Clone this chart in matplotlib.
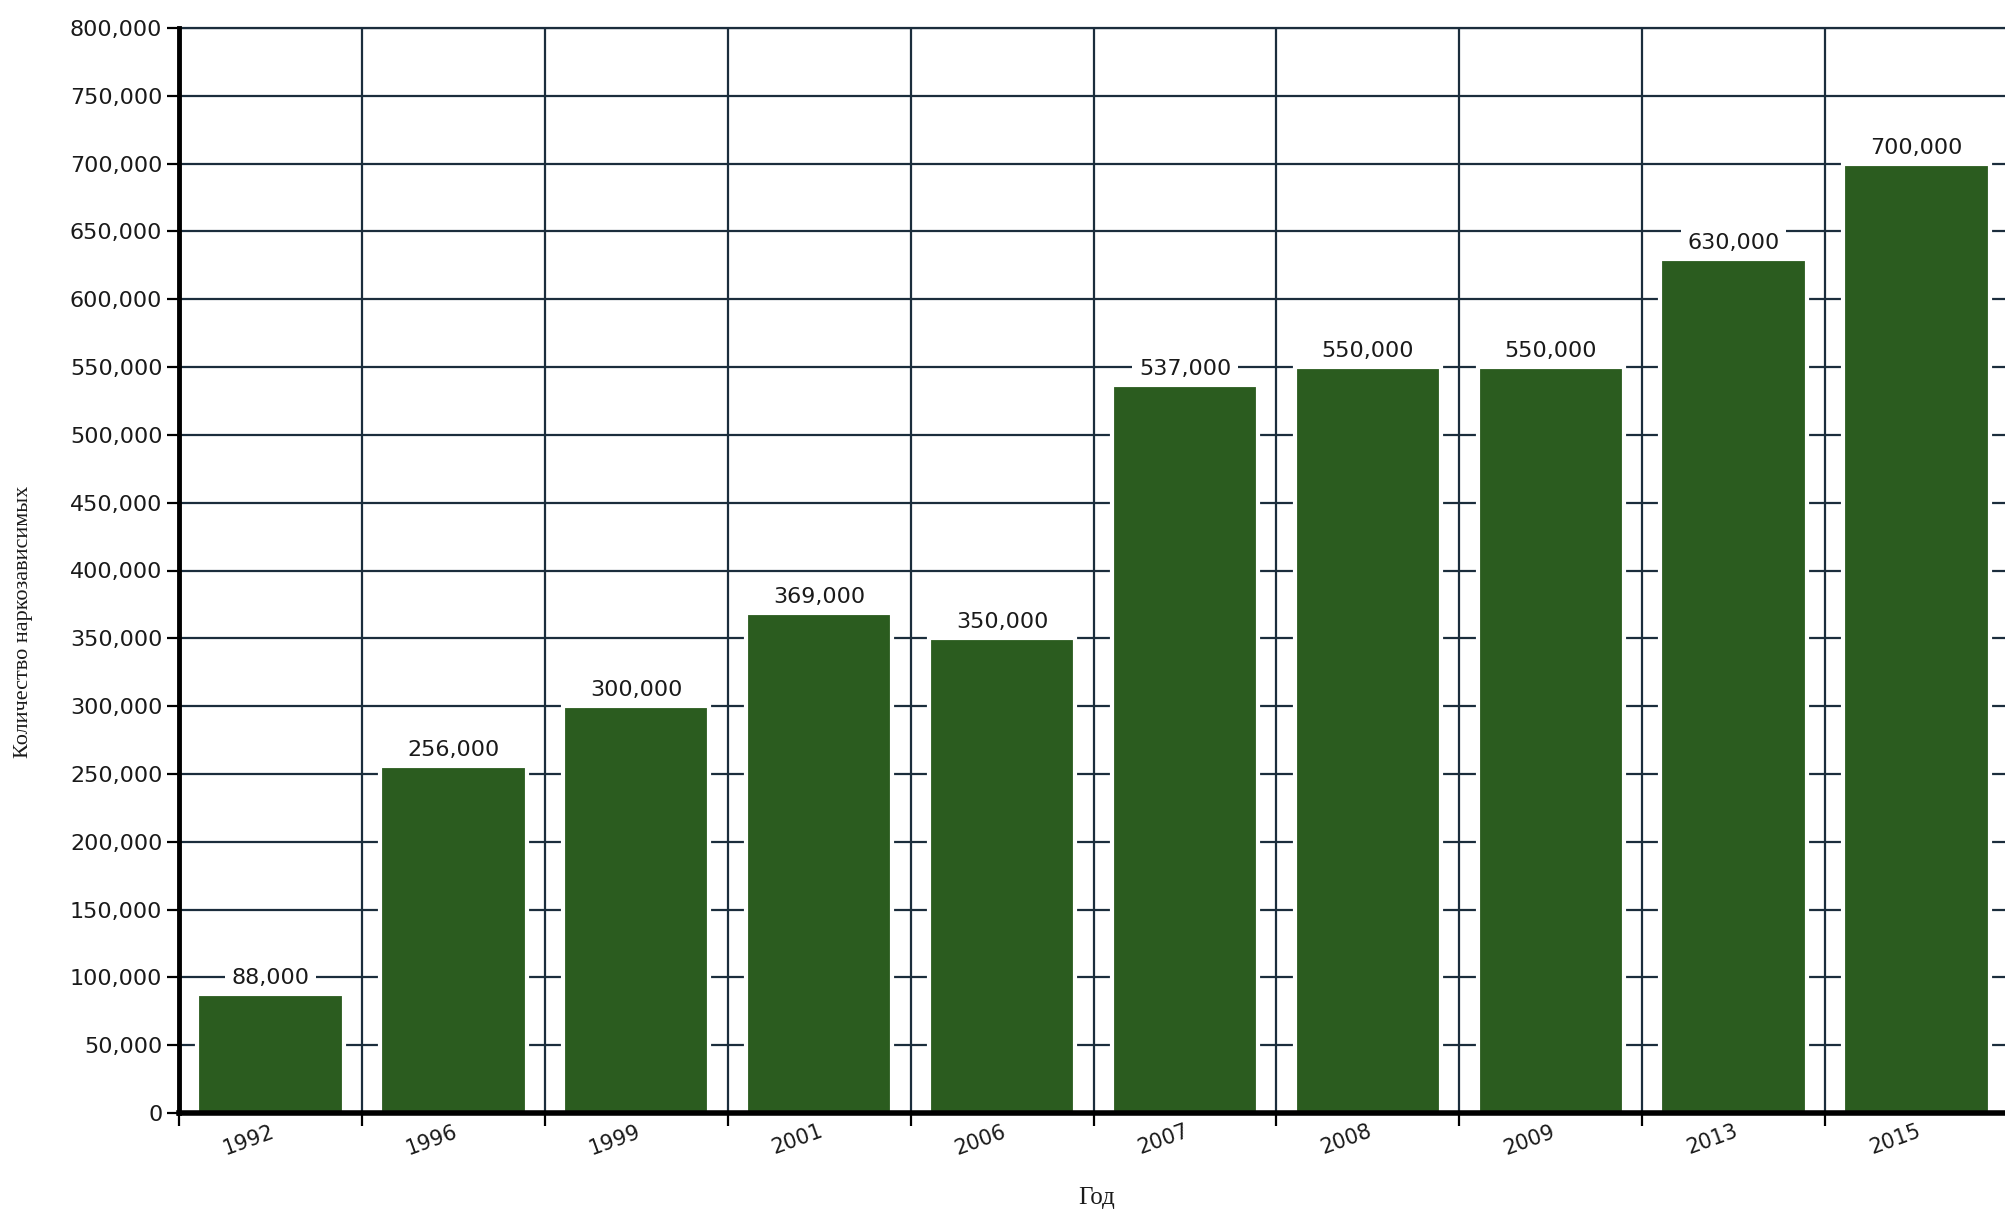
import matplotlib
matplotlib.use("Agg")
import matplotlib.pyplot as plt
import matplotlib.transforms as mtransforms
import numpy as np

years = ["1992", "1996", "1999", "2001", "2006", "2007", "2008", "2009", "2013", "2015"]
values = [88000, 256000, 300000, 369000, 350000, 537000, 550000, 550000, 630000, 700000]
value_labels = ["88,000", "256,000", "300,000", "369,000", "350,000", "537,000",
                "550,000", "550,000", "630,000", "700,000"]
yticks = list(range(0, 800001, 50000))
ytick_labels = [f"{v:,}" for v in yticks]
xlabel = "Год"
ylabel = "Количество наркозависимых"

W, H = 2006, 1215
fig = plt.figure(figsize=(W / 100, H / 100), dpi=100)
left, right, top, bottom = 179, 2008, 28, 1113
ax = fig.add_axes([left / W, (H - bottom) / H, (right - left) / W, (bottom - top) / H])

bar_color = "#2b5c1f"
grid_color = "#1b2d3c"
text_color = "#1a1a1a"

x = np.arange(len(years))
ax.bar(x, values, width=0.8, color=bar_color, edgecolor="white", linewidth=3, zorder=3)

ax.set_xlim(-0.5, len(years) - 0.5)
ax.set_ylim(0, 800000)

ax.set_yticks(yticks)
ax.set_yticklabels(ytick_labels, fontsize=16, family="DejaVu Sans", color=text_color)
ax.set_xticks(np.arange(-0.5, len(years), 1.0))
ax.set_xticklabels([])
ax.set_xticks(x, minor=True)
ax.set_xticklabels(years, minor=True, fontsize=15, family="DejaVu Sans", color=text_color,
                   rotation=20, ha="right", va="top", rotation_mode="anchor")
offset = mtransforms.ScaledTranslation(0.12, -0.04, fig.dpi_scale_trans)
for lab in ax.get_xticklabels(minor=True):
    lab.set_transform(lab.get_transform() + offset)

ax.grid(True, which="major", color=grid_color, linewidth=1.6, zorder=1)
ax.set_axisbelow(True)
ax.tick_params(axis="x", which="major", length=9, width=1.6, color="black", direction="out")
ax.tick_params(axis="x", which="minor", length=0, pad=6)
ax.tick_params(axis="y", which="major", length=9, width=1.6, color="black", pad=3)

ax.spines["right"].set_visible(False)
ax.spines["top"].set_color(grid_color)
ax.spines["top"].set_linewidth(1.6)
ax.spines["left"].set_linewidth(3.5)
ax.spines["left"].set_color("black")
ax.spines["bottom"].set_linewidth(4)
ax.spines["bottom"].set_color("black")
ax.spines["bottom"].set_zorder(4)
ax.spines["left"].set_zorder(4)

for xi, v, lab in zip(x, values, value_labels):
    ax.annotate(lab, (xi, v), xytext=(0, 16), textcoords="offset pixels",
                ha="center", va="center", fontsize=16, family="DejaVu Sans", color=text_color,
                bbox=dict(boxstyle="square,pad=0.3", fc="white", ec="none"), zorder=5)

fig.text(24 / W, 1 - 622 / H, ylabel, rotation=90, ha="center", va="center",
         fontsize=16, family="Liberation Serif", color=text_color)
fig.text(1097 / W, 1 - 1198 / H, xlabel, ha="center", va="center",
         fontsize=18, family="Liberation Serif", color=text_color)

fig.savefig("out.png", dpi=100, facecolor="white")
